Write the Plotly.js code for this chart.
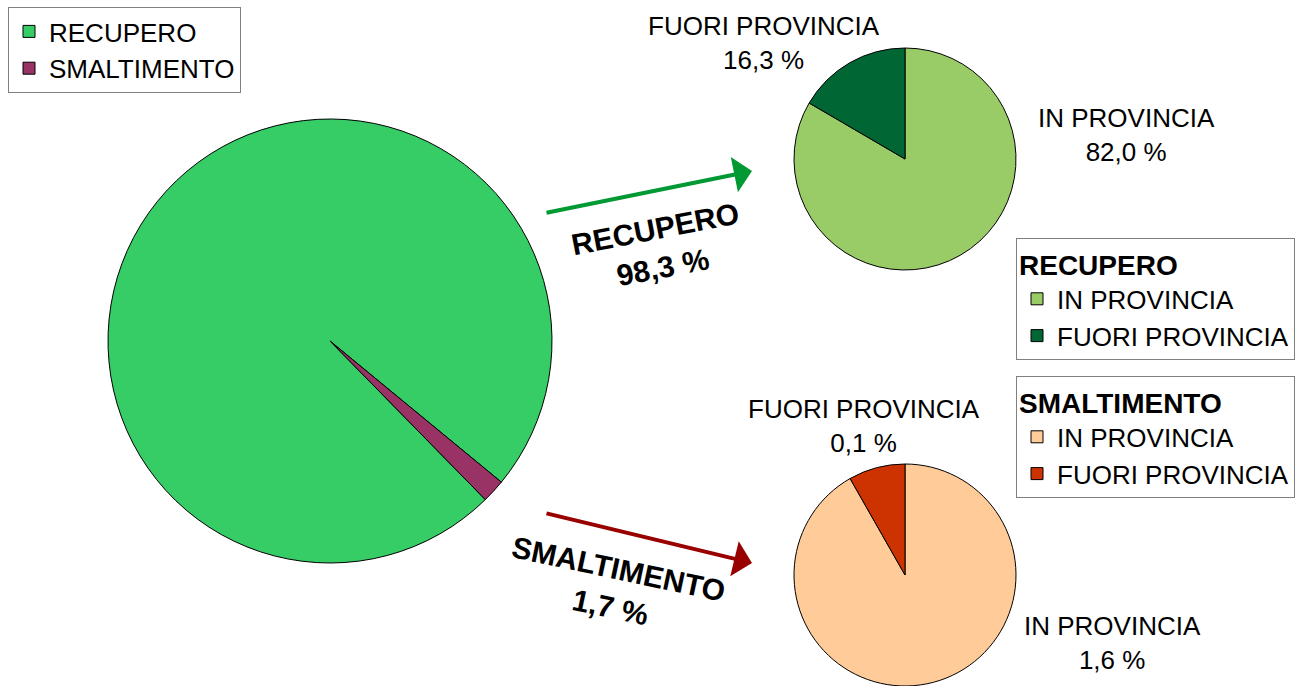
<!DOCTYPE html>
<html>
<head>
<meta charset="utf-8">
<script src="https://cdn.plot.ly/plotly-3.0.1.min.js"></script>
<style>html,body{margin:0;padding:0;background:#fff;}#chart{width:1296px;height:686px;}</style>
</head>
<body>
<div id="chart"></div>
<script>
// ---- data ----
var mainLabels = ['RECUPERO', 'SMALTIMENTO'];
var mainValues = [98.3, 1.7];
var recLabels = ['IN PROVINCIA', 'FUORI PROVINCIA'];
var recValues = [82.0, 16.3];
var smaLabels = ['IN PROVINCIA', 'FUORI PROVINCIA'];
var smaValues = [1.56, 0.14];

function fmt(v) { return v.toFixed(1).replace('.', ',') + ' %'; }

var FONT = 'Liberation Sans, Arial, sans-serif';
var lineStyle = {color: '#000000', width: 1};

var traces = [
  {
    type: 'pie', labels: mainLabels, values: mainValues, sort: false,
    direction: 'clockwise', rotation: 135.6,
    marker: {colors: ['#36CC66', '#993366'], line: lineStyle},
    textinfo: 'none', hoverinfo: 'none',
    domain: {x: [108/1296, 552/1296], y: [1 - 563/686, 1 - 119/686]},
    legend: 'legend', legendgroup: 'g1'
  },
  {
    type: 'pie', labels: recLabels, values: recValues, sort: false,
    direction: 'clockwise', rotation: 0,
    marker: {colors: ['#99CC66', '#006633'], line: lineStyle},
    textinfo: 'none', hoverinfo: 'none',
    domain: {x: [794/1296, 1016/1296], y: [1 - 270/686, 1 - 48/686]},
    legend: 'legend2', legendgroup: 'g2'
  },
  {
    type: 'pie', labels: smaLabels, values: smaValues, sort: false,
    direction: 'clockwise', rotation: 0,
    marker: {colors: ['#FFCC99', '#CC3300'], line: lineStyle},
    textinfo: 'none', hoverinfo: 'none',
    domain: {x: [794/1296, 1016/1296], y: [0, 1 - 464/686]},
    legend: 'legend3', legendgroup: 'g3'
  }
];

var legFont = {family: FONT, size: 26, color: '#000'};
var legBase = {
  font: legFont, bgcolor: '#ffffff', bordercolor: '#808080', borderwidth: 1,
  xanchor: 'left', yanchor: 'top', tracegroupgap: 0, itemclick: false, itemwidth: 30
};

var annotations = [
  {x: 764/1296, y: 1 - 43/686, text: recLabels[1] + '<br>' + fmt(recValues[1])},
  {x: 1126/1296, y: 1 - 135/686, text: recLabels[0] + '<br>' + fmt(recValues[0])},
  {x: 864/1296, y: 1 - 426/686, text: smaLabels[1] + '<br>' + fmt(smaValues[1])},
  {x: 1112/1296, y: 1 - 643/686, text: smaLabels[0] + '<br>' + fmt(smaValues[0])}
].map(function (a) {
  return Object.assign({xref: 'paper', yref: 'paper', showarrow: false,
    xanchor: 'center', yanchor: 'middle', align: 'center',
    font: {family: FONT, size: 26, color: '#000'}}, a);
});

annotations.push(
  {xref: 'paper', yref: 'paper', x: 659/1296, y: 1 - 248/686, showarrow: false,
   xanchor: 'center', yanchor: 'middle',
   text: '<b>' + mainLabels[0] + '<br>' + fmt(mainValues[0]) + '</b>', textangle: -11,
   font: {family: FONT, size: 30, color: '#000'}, align: 'center'},
  {xref: 'paper', yref: 'paper', x: 614/1296, y: 1 - 588/686, showarrow: false,
   xanchor: 'center', yanchor: 'middle',
   text: '<b>' + mainLabels[1] + '<br>' + fmt(mainValues[1]) + '</b>', textangle: 12,
   font: {family: FONT, size: 30, color: '#000'}, align: 'center'},
  {xref: 'paper', yref: 'paper', x: 752/1296, y: 1 - 171/686, text: '',
   showarrow: true, arrowhead: 1, arrowsize: 1.5, arrowwidth: 4, arrowcolor: '#009933',
   ax: -207, ay: 42, standoff: 0},
  {xref: 'paper', yref: 'paper', x: 752/1296, y: 1 - 563/686, text: '',
   showarrow: true, arrowhead: 1, arrowsize: 1.5, arrowwidth: 4, arrowcolor: '#990000',
   ax: -207, ay: -50, standoff: 0}
);

var layout = {
  width: 1296, height: 686,
  margin: {l: 0, r: 0, t: 0, b: 0},
  paper_bgcolor: '#ffffff',
  showlegend: true,
  font: {family: FONT},
  legend: Object.assign({}, legBase, {x: 8/1296, y: 1 - 7/686}),
  legend2: Object.assign({}, legBase, {x: 1016/1296, y: 1 - 238/686,
    title: {text: '<b>RECUPERO</b>', font: {family: FONT, size: 28, color: '#000'}}}),
  legend3: Object.assign({}, legBase, {x: 1016/1296, y: 1 - 376/686,
    title: {text: '<b>SMALTIMENTO</b>', font: {family: FONT, size: 28, color: '#000'}}}),
  annotations: annotations
};

Plotly.newPlot('chart', traces, layout, {displayModeBar: false, staticPlot: true});
</script>
</body>
</html>
